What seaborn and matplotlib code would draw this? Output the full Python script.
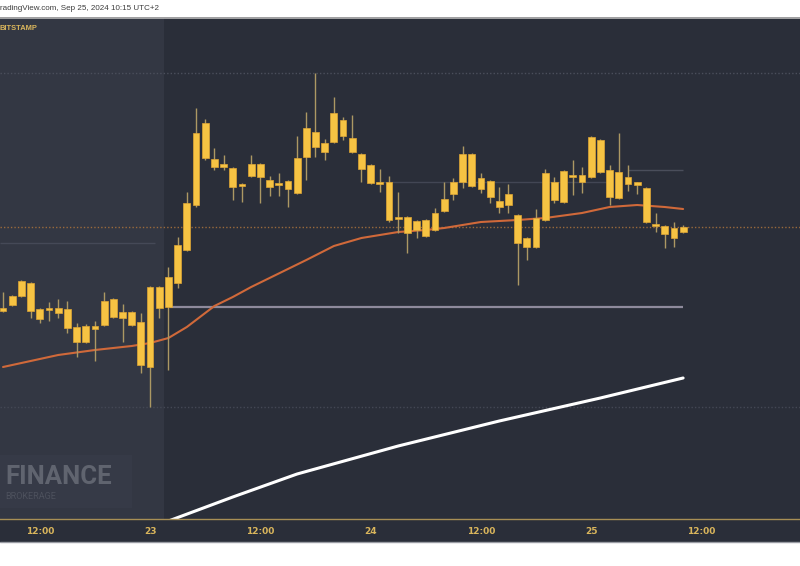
"""BTC/USD hourly candles, Bitstamp, Sep 22-25 2024 (TradingView dark style)."""

import numpy as np
import pandas as pd
import matplotlib
matplotlib.use("Agg")
import matplotlib.pyplot as plt
from matplotlib.patches import Rectangle
import seaborn as sns

# hourly candles, x = hours counted from Sep 22 00:00 (UTC+2)
hours = list(range(8, 83))
opens = [63445, 63475, 63520, 63585, 63455, 63450, 63460, 63455, 63365, 63290,
         63370, 63375, 63505, 63440, 63440, 63390, 63165, 63565, 63465, 63585,
         63750, 63975, 64385, 64205, 64165, 64160, 64080, 64120, 64180, 64100,
         64075, 64095, 64035, 64215, 64340, 64285, 64290, 64400, 64310, 64230,
         64175, 64090, 64090, 63915, 63915, 63850, 63900, 63850, 63945, 64030,
         64090, 64230, 64055, 64095, 63995, 63975, 63925, 63810, 63765, 63900,
         64090, 63990, 64125, 64125, 64115, 64300, 64150, 64010, 64115, 64090,
         64060, 63880, 63870, 63810, 63840]
closes = [63460, 63520, 63595, 63445, 63405, 63460, 63435, 63360, 63290, 63370,
          63355, 63495, 63415, 63410, 63375, 63175, 63565, 63460, 63615, 63775,
          63985, 64335, 64210, 64165, 64180, 64065, 64070, 64180, 64115, 64065,
          64085, 64055, 64210, 64360, 64265, 64240, 64435, 64320, 64240, 64155,
          64085, 64080, 63900, 63905, 63835, 63895, 63820, 63935, 64005, 64090,
          64230, 64070, 64110, 64015, 63965, 64030, 63785, 63765, 63910, 64135,
          64000, 64145, 64115, 64090, 64315, 64140, 64015, 64140, 64080, 64075,
          63890, 63870, 63830, 63860, 63865]
highs = [63540, 63525, 63600, 63590, 63460, 63490, 63505, 63495, 63385, 63380,
         63395, 63540, 63510, 63480, 63445, 63435, 63570, 63570, 63665, 63815,
         64040, 64460, 64405, 64260, 64225, 64165, 64085, 64225, 64185, 64120,
         64135, 64100, 64320, 64440, 64635, 64305, 64515, 64415, 64425, 64235,
         64180, 64155, 64120, 64040, 63920, 63900, 63905, 63960, 64090, 64110,
         64270, 64235, 64135, 64100, 64065, 64080, 63930, 63815, 63955, 64155,
         64115, 64150, 64200, 64165, 64320, 64305, 64175, 64335, 64175, 64090,
         64065, 63935, 63875, 63890, 63875]
lows = [63440, 63470, 63515, 63410, 63385, 63395, 63410, 63335, 63215, 63285,
        63195, 63370, 63410, 63290, 63370, 63135, 62965, 63410, 63150, 63560,
        63745, 63965, 64200, 64150, 64150, 64000, 63990, 64115, 63985, 64020,
        64020, 63965, 64030, 64100, 64215, 64200, 64285, 64300, 64235, 64090,
        64080, 64040, 63890, 63835, 63735, 63810, 63815, 63845, 63940, 64000,
        64060, 64065, 64035, 63985, 63935, 63935, 63575, 63700, 63760, 63895,
        63985, 63985, 64025, 64035, 64110, 64135, 63975, 64005, 64045, 64030,
        63885, 63840, 63760, 63765, 63835]

# moving averages
ema_hours = [8, 14, 18, 22, 24, 26, 28, 29, 31, 33, 35, 37, 41, 44, 47, 49, 51,
             54, 56, 60, 64, 67, 71, 74, 77, 80, 82]
ema_vals = [63165, 63225, 63250, 63270, 63285, 63310, 63365, 63400, 63470, 63515,
            63565, 63610, 63700, 63770, 63810, 63825, 63840, 63850, 63860, 63890,
            63900, 63910, 63935, 63965, 63975, 63965, 63955]
slow_hours = [26, 33, 40, 51, 62, 73, 82]
slow_vals = [62395, 62515, 62630, 62770, 62895, 63010, 63110]

# horizontal levels
last_price = 63865
high_level = 64635
low_level = 62965
support = 63465

tick_hours = [12, 24, 36, 48, 60, 72, 84]
tick_labels = ["12:00", "23", "12:00", "24", "12:00", "25", "12:00"]

BG = "#2a2e39"
SHADE = "#333743"
GOLD = "#d9b55c"
CANDLE = "#f6c343"
WICK = "#ac9863"

sns.set_theme(style="dark")
plt.rcParams["font.family"] = ["DejaVu Sans"]

df = pd.DataFrame({"hour": hours, "open": opens, "close": closes,
                   "high": highs, "low": lows})

fig = plt.figure(figsize=(8, 5.66), dpi=100, facecolor="white")
fig.patches.append(Rectangle((0, 24 / 566), 1, 525 / 566, transform=fig.transFigure,
                             facecolor=BG, edgecolor="none", zorder=-5))
fig.add_artist(plt.Line2D([0, 1], [1 - 17.5 / 566] * 2, color="#b8b8b8", lw=1.2))
fig.add_artist(plt.Line2D([0, 1], [24 / 566] * 2, color="#9a9ca4", lw=1))

ax = fig.add_axes([0, 47 / 566, 1, 501 / 566])
ax.set_zorder(1)
ax.set_facecolor(BG)
ax.set_xlim(7.67, 94.72)
ax.set_ylim(62405, 64910)

# weekend shading
ax.axvspan(7.67, 25.5, color=SHADE, lw=0, zorder=0)

# levels
ax.axhline(high_level, color="#4b4f5c", lw=1, ls=(0, (1, 1.5)), zorder=1)
ax.axhline(low_level, color="#444855", lw=1, ls=(0, (1, 1.5)), zorder=1)
ax.axhline(last_price, color="#9a6a3c", lw=1, ls=(0, (1, 1.5)), zorder=1)
ax.hlines(support, 26.2, 82, color="#8e8a9c", lw=1.6, zorder=1)
ax.hlines(63785, 7.67, 24.5, color="#454957", lw=1, zorder=1)
ax.hlines(64090, 49, 74, color="#424654", lw=1, zorder=1)
ax.hlines(64150, 76, 82, color="#4a4e5b", lw=1, zorder=1)

# moving averages
sns.lineplot(x=ema_hours, y=ema_vals, ax=ax, color="#d0693a", lw=1.5, zorder=2)
sns.lineplot(x=slow_hours, y=slow_vals, ax=ax, color="white", lw=2.2, zorder=2)

# candles
ax.vlines(df["hour"], df["low"], df["high"], color=WICK, lw=1, zorder=3)
body_lo = np.minimum(df["open"], df["close"])
body_h = np.maximum(np.abs(df["close"] - df["open"]), 8)
ax.bar(df["hour"], body_h, bottom=body_lo, width=0.74, color=CANDLE,
       edgecolor="#e0a634", linewidth=0.5, zorder=4)

ax.set_yticks([])
ax.set_xticks(tick_hours)
ax.set_xticklabels(tick_labels, color=GOLD, fontsize=6.5, fontweight="bold")
ax.tick_params(axis="x", length=0, pad=6)
ax.grid(False)
for side in ["top", "left", "right"]:
    ax.spines[side].set_visible(False)
ax.spines["bottom"].set_color("#a88f55")
ax.spines["bottom"].set_linewidth(1)

# header and watermark
fig.text(0.0, 1 - 9 / 566, "radingView.com, Sep 25, 2024 10:15 UTC+2",
         fontsize=5.8, color="#3c3c3c", va="center", ha="left",
         family=["Liberation Sans", "DejaVu Sans"])
fig.text(0.0, 1 - 28 / 566, "BITSTAMP", fontsize=5.4, color=GOLD,
         fontweight="bold", va="center", ha="left", zorder=5,
         family=["Liberation Sans Narrow", "Liberation Sans", "DejaVu Sans"])
fig.patches.append(Rectangle((0, 58 / 566), 132 / 800, 53 / 566, transform=fig.transFigure,
                             facecolor="#363a47", edgecolor="none", zorder=4))
fig.text(5 / 800, 82 / 566, "FINANCE", fontsize=18.5, color="#60646f",
         fontweight="bold", va="baseline", ha="left", zorder=5,
         family=["Roboto", "DejaVu Sans"])
fig.text(5 / 800, 67 / 566, "BROKERAGE", fontsize=6.5, color="#4d515d",
         va="baseline", ha="left", zorder=5, family=["Roboto", "DejaVu Sans"])

fig.savefig("out.png", dpi=100, facecolor="white")
